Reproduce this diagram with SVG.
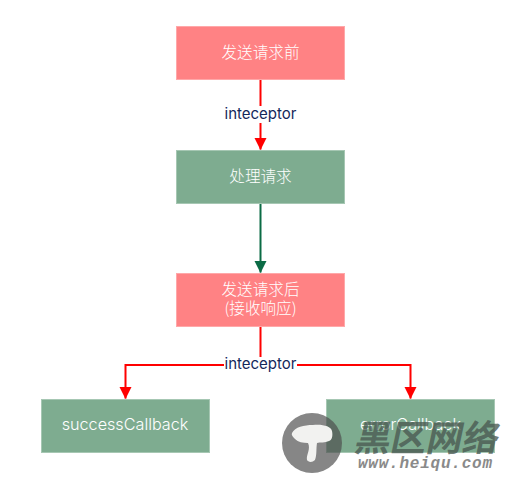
<svg xmlns="http://www.w3.org/2000/svg" width="514" height="479" viewBox="0 0 514 479">
<style>
.pink{fill:#ff8284;stroke:#ffa8a9;stroke-width:1}
.green{fill:#7eac90;stroke:#a6c7b3;stroke-width:1}
.t{font-family:"Liberation Sans","Noto Sans CJK SC",sans-serif;font-size:15px;fill:#fff;text-anchor:middle}
.cn{font-family:"Noto Sans CJK SC",sans-serif;font-size:15.6px;font-weight:300}
.en{font-family:Inter,"Liberation Sans",sans-serif;font-size:16.200px;font-weight:300}
.l{font-family:"Inter","Liberation Sans",sans-serif;font-size:15px;fill:#14285a;text-anchor:middle}
.r{fill:none;stroke:#f00;stroke-width:2}
.g{fill:none;stroke:#0b6b45;stroke-width:2}
</style>
<defs>
<marker id="ar" markerUnits="userSpaceOnUse" markerWidth="12" markerHeight="13" refX="11.5" refY="6" orient="auto"><path d="M0 0L12 6L0 12Z" fill="#f00"/></marker>
<marker id="ag" markerUnits="userSpaceOnUse" markerWidth="12" markerHeight="13" refX="11.5" refY="6" orient="auto"><path d="M0 0L12 6L0 12Z" fill="#0b6b45"/></marker>
</defs>
<rect width="514" height="479" fill="#fff"/>
<g id="connectors">
<path class="r" d="M260.500 80V149.500" marker-end="url(#ar)"/>
<path class="g" d="M260.500 204V272.500" marker-end="url(#ag)"/>
<path class="r" d="M260.500 327V365M260.500 365H125.500V398.500" marker-end="url(#ar)"/>
<path class="r" d="M260.500 365H410.500V398.500" marker-end="url(#ar)"/>
<rect x="224" y="106" width="73" height="17" fill="#fff"/>
<rect x="224" y="357" width="73" height="15" fill="#fff"/>
<text class="l" x="260.500" y="119">inteceptor</text>
<text class="l" x="260.500" y="369">inteceptor</text>
</g>
<g id="n1"><rect class="pink" x="176.500" y="26.500" width="168" height="53"/><text class="t cn" x="260.500" y="57.500">发送请求前</text></g>
<g id="n2"><rect class="green" x="176.500" y="150.500" width="168" height="53"/><text class="t cn" x="260.500" y="181.500">处理请求</text></g>
<g id="n3"><rect class="pink" x="176.500" y="273.500" width="168" height="53"/><text class="t cn" x="260.500" y="295">发送请求后</text><text class="t cn" x="260.500" y="314">(接收响应)</text></g>
<g id="n4"><rect class="green" x="41.500" y="399.500" width="168" height="53"/><text class="t en" x="125" y="429.500">successCallback</text></g>
<g id="n5"><rect class="green" x="326.500" y="399.500" width="168" height="53"/><text class="t en" x="410.500" y="430">errorCallback</text></g>
<g id="watermark">
<circle cx="312" cy="443" r="30" fill="#4c4c4c" fill-opacity="0.68"/>
<path d="M292 433C295 427 304 425 313 425C322 424 331 426 332 431C333 436 332 440 329 441C325 443 320 442 317 443C316 449 317 455 315 460C312 463 308 462 307 460C306 455 311 449 308 443C303 443 298 442 295 439C293 437 291 435 292 433Z" fill="#f2f2f0"/>
<text x="449" y="451" font-family="Noto Sans CJK SC,sans-serif" font-size="36" font-weight="700" fill="#4a5a52" fill-opacity="0.8" transform="skewX(-12)">黑区网络</text>
<text x="358" y="468" font-family="Liberation Mono,monospace" font-size="16" font-style="italic" font-weight="700" fill="#8a8a8a" textLength="134">www.heiqu.com</text>
</g>
</svg>
